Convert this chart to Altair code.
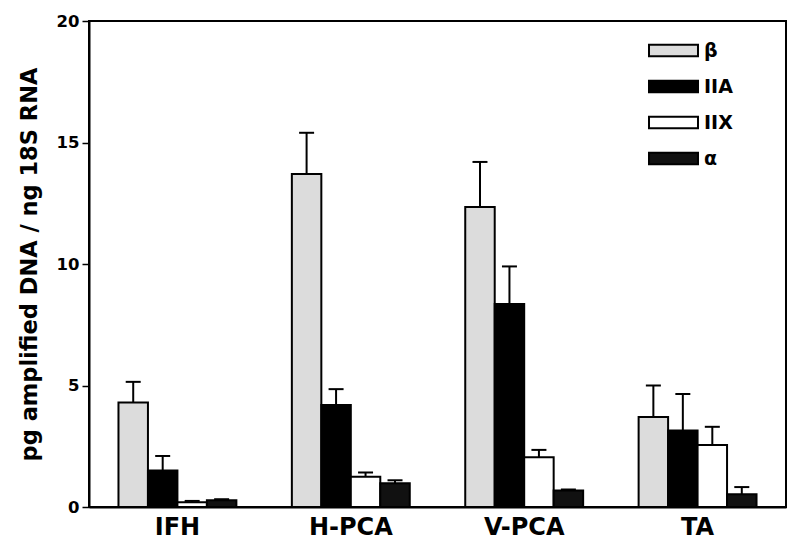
import altair as alt
import pandas as pd

groups = ["IFH", "H-PCA", "V-PCA", "TA"]
series = ["β", "IIA", "IIX", "α"]
values = {
    "β":   [4.3, 13.7, 12.35, 3.7],
    "IIA": [1.5, 4.2, 8.35, 3.15],
    "IIX": [0.2, 1.25, 2.05, 2.55],
    "α":   [0.28, 0.98, 0.68, 0.52],
}
errors = {
    "β":   [5.15, 15.4, 14.2, 5.0],
    "IIA": [2.1, 4.85, 9.9, 4.65],
    "IIX": [0.25, 1.42, 2.35, 3.3],
    "α":   [0.32, 1.1, 0.72, 0.82],
}
fills = ["#dcdcdc", "#000000", "#ffffff", "#111111"]

rows = []
for s in series:
    for i, g in enumerate(groups):
        rows.append({"group": g, "series": s, "value": values[s][i], "err": errors[s][i]})
df = pd.DataFrame(rows)

font = "DejaVu Sans"

x = alt.X("group:N", sort=groups, title=None,
          scale=alt.Scale(paddingInner=0.32, paddingOuter=0.17),
          axis=alt.Axis(labelFont=font, labelFontSize=24, labelFontWeight="bold",
                        labelColor="black", labelAngle=0, ticks=False, labelPadding=8,
                        domainColor="black", domainWidth=2))
xo = alt.XOffset("series:N", sort=series)
y = alt.Y("value:Q", title="pg amplified DNA / ng 18S RNA",
          scale=alt.Scale(domain=[0, 20]),
          axis=alt.Axis(values=[0, 5, 10, 15, 20], grid=False, tickSize=7,
                        tickColor="black", tickWidth=1.5, domainColor="black",
                        domainWidth=2, labelFont=font, labelFontSize=16.5,
                        labelFontWeight="bold", labelColor="black", labelPadding=3,
                        titleFont=font, titleFontSize=22.5, titleFontWeight="bold",
                        titleColor="black", titlePadding=15))

color = alt.Color("series:N", sort=series,
                  scale=alt.Scale(domain=series, range=fills),
                  legend=alt.Legend(title=None, orient="none", legendX=559, legendY=4,
                                    symbolType="M-1,-0.23H1V0.23H-1Z", symbolSize=2400,
                                    symbolStrokeColor="black", symbolStrokeWidth=2,
                                    symbolOpacity=1, labelFont=font, labelFontSize=19,
                                    labelFontWeight="bold", labelColor="black",
                                    rowPadding=-2.5, labelOffset=5))

bars = alt.Chart(df).mark_bar(stroke="black", strokeWidth=2, opacity=1).encode(
    x=x, xOffset=xo, y=y, color=color)

rules = alt.Chart(df).mark_rule(color="black", strokeWidth=2).encode(
    x=x, xOffset=xo, y="value:Q", y2="err:Q")

caps = alt.Chart(df).mark_tick(color="black", thickness=2, size=15, opacity=1).encode(
    x=x, xOffset=xo, y="err:Q")

chart = alt.layer(bars, rules, caps).properties(
    width=697, height=486,
    padding={"left": 10, "top": 5, "right": 5, "bottom": 5}
).configure(background="white").configure_view(stroke="black", strokeWidth=2)

chart.save("out.html", embed_options={"renderer": "svg", "actions": False})
